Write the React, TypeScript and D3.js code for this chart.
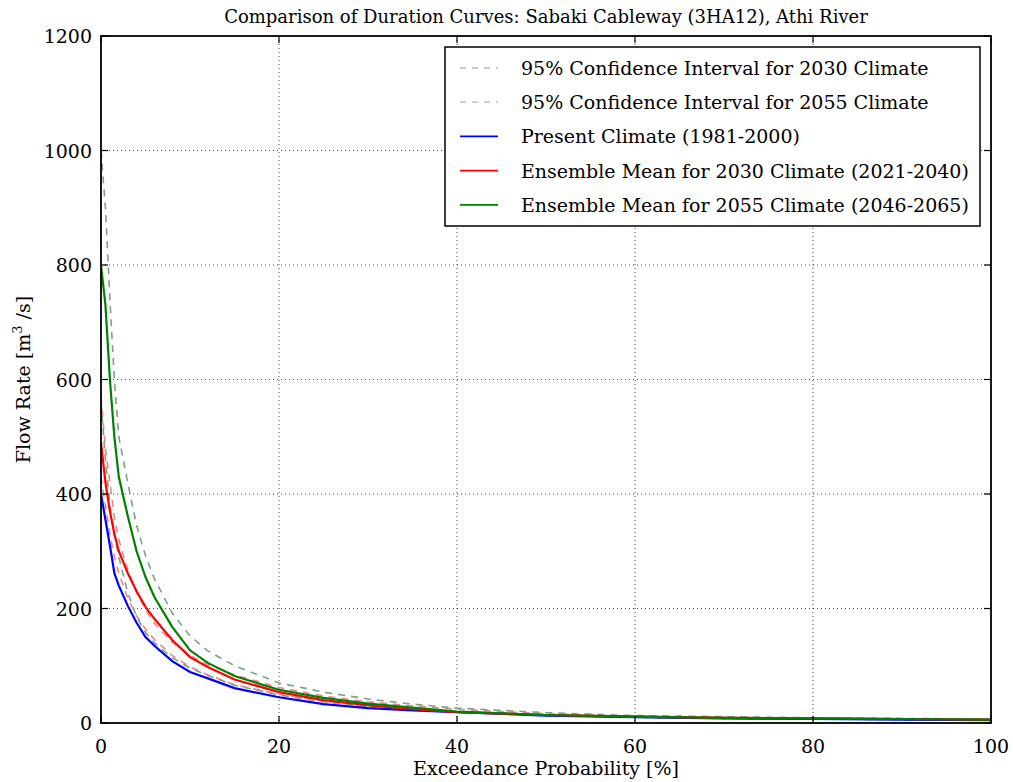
import React from 'react';
import * as d3 from 'd3';

// exceedance probability [%]
const probs = [0, 0.5, 1, 1.5, 2, 3, 4, 5, 6, 8, 10, 12, 15, 20, 25, 30, 35, 40, 50, 60, 70, 80, 90, 100];

const presentFlow = [400, 355, 310, 262, 240, 205, 175, 150, 135, 108, 89, 78, 61, 45, 33, 26, 22, 19, 13, 10, 8, 7, 6, 5];
const mean2030 = [490, 420, 370, 330, 300, 262, 230, 203, 182, 145, 115, 98, 76, 54, 40, 31, 24, 19, 14, 11, 9, 8, 7, 6];
const mean2055 = [800, 730, 600, 500, 430, 362, 300, 255, 220, 168, 127, 105, 82, 58, 44, 34, 27, 20, 14, 11, 9, 8, 7, 6];
const ci2030Upper = [570, 480, 420, 360, 320, 268, 228, 198, 174, 141, 118, 102, 84, 62, 47, 37, 30, 24, 16, 12, 10, 8, 7, 6];
const ci2030Lower = [430, 380, 330, 290, 262, 218, 187, 164, 146, 118, 98, 84, 67, 50, 38, 29, 23, 19, 14, 10, 8, 7, 6, 5];
const ci2055Upper = [1000, 900, 740, 600, 500, 420, 345, 292, 252, 192, 152, 126, 100, 70, 54, 42, 33, 26, 18, 13, 11, 9, 8, 7];
const ci2055Lower = [560, 460, 380, 330, 290, 228, 186, 158, 140, 114, 96, 83, 66, 49, 37, 29, 23, 19, 14, 10, 8, 7, 6, 5];

const xTicks = [0, 20, 40, 60, 80, 100];
const yTicks = [0, 200, 400, 600, 800, 1000, 1200];

const legendItems = [
  { label: '95% Confidence Interval for 2030 Climate', color: '#c8c8c8', dash: '6,6' },
  { label: '95% Confidence Interval for 2055 Climate', color: '#c8c8c8', dash: '6,6' },
  { label: 'Present Climate (1981-2000)', color: '#0000ff', dash: null },
  { label: 'Ensemble Mean for 2030 Climate (2021-2040)', color: '#ff0000', dash: null },
  { label: 'Ensemble Mean for 2055 Climate (2046-2065)', color: '#008000', dash: null },
];

const series = [
  { values: ci2030Upper, color: '#e08c8c', dash: '7,6', width: 1.6 },
  { values: ci2030Lower, color: '#e08c8c', dash: '7,6', width: 1.6 },
  { values: ci2055Upper, color: '#7f9f86', dash: '7,6', width: 1.6 },
  { values: ci2055Lower, color: '#7f9f86', dash: '7,6', width: 1.6 },
  { values: presentFlow, color: '#0000ff', dash: null, width: 2.2 },
  { values: mean2030, color: '#ff0000', dash: null, width: 2.2 },
  { values: mean2055, color: '#008000', dash: null, width: 2.2 },
];

const W = 1013;
const H = 782;
const left = 101;
const right = 991;
const top = 36;
const bottom = 723;
const font = '"DejaVu Serif", serif';

export default function App() {
  const x = d3.scaleLinear().domain([0, 100]).range([left, right]);
  const y = d3.scaleLinear().domain([0, 1200]).range([bottom, top]);
  const line = d3.line<number>()
    .x((d, i) => x(probs[i]))
    .y(d => y(d));

  return (
    <svg width={W} height={H} style={{ position: 'absolute', left: 0, top: 0, background: '#fff' }}>
      <defs>
        <clipPath id="plot">
          <rect x={left} y={top} width={right - left} height={bottom - top} />
        </clipPath>
      </defs>

      {/* grid */}
      {xTicks.slice(1, -1).map(t => (
        <line key={'gx' + t} x1={x(t)} x2={x(t)} y1={top} y2={bottom}
              stroke="#000" strokeWidth={1} strokeDasharray="1,3" opacity={0.7} />
      ))}
      {yTicks.slice(1, -1).map(t => (
        <line key={'gy' + t} x1={left} x2={right} y1={y(t)} y2={y(t)}
              stroke="#000" strokeWidth={1} strokeDasharray="1,3" opacity={0.7} />
      ))}

      <g clipPath="url(#plot)">
        {series.map((s, i) => (
          <path key={i} d={line(s.values) || ''} fill="none" stroke={s.color}
                strokeWidth={s.width} strokeDasharray={s.dash || undefined} />
        ))}
      </g>

      {/* ticks */}
      {xTicks.map(t => (
        <g key={'tx' + t}>
          <line x1={x(t)} x2={x(t)} y1={bottom} y2={bottom - 7} stroke="#000" strokeWidth={1.2} />
          <line x1={x(t)} x2={x(t)} y1={top} y2={top + 7} stroke="#000" strokeWidth={1.2} />
          <text x={x(t)} y={bottom + 30} textAnchor="middle" fontFamily={font} fontSize={19}>{t}</text>
        </g>
      ))}
      {yTicks.map(t => (
        <g key={'ty' + t}>
          <line x1={left} x2={left + 7} y1={y(t)} y2={y(t)} stroke="#000" strokeWidth={1.2} />
          <line x1={right} x2={right - 7} y1={y(t)} y2={y(t)} stroke="#000" strokeWidth={1.2} />
          <text x={left - 9} y={y(t) + 7} textAnchor="end" fontFamily={font} fontSize={19}>{t}</text>
        </g>
      ))}

      <rect x={left} y={top} width={right - left} height={bottom - top} fill="none" stroke="#000" strokeWidth={1.8} />

      {/* legend */}
      <rect x={445} y={47} width={535} height={179} fill="#fff" stroke="#000" strokeWidth={1.5} />
      {legendItems.map((d, i) => {
        const cy = 68 + i * 34.2;
        return (
          <g key={'lg' + i}>
            <line x1={460} x2={498} y1={cy} y2={cy} stroke={d.color} strokeWidth={1.8}
                  strokeDasharray={d.dash || undefined} />
            <text x={521} y={cy + 7} fontFamily={font} fontSize={19}>{d.label}</text>
          </g>
        );
      })}

      <text x={(left + right) / 2} y={23} textAnchor="middle" fontFamily={font} fontSize={18}>
        Comparison of Duration Curves: Sabaki Cableway (3HA12), Athi River
      </text>
      <text x={(left + right) / 2} y={775} textAnchor="middle" fontFamily={font} fontSize={19}>
        Exceedance Probability [%]
      </text>
      <text transform={`translate(30, ${(top + bottom) / 2}) rotate(-90)`} textAnchor="middle"
            fontFamily={font} fontSize={19}>
        Flow Rate [m<tspan dy={-8} fontSize={13}>3</tspan><tspan dy={8}> /s]</tspan>
      </text>
    </svg>
  );
}
